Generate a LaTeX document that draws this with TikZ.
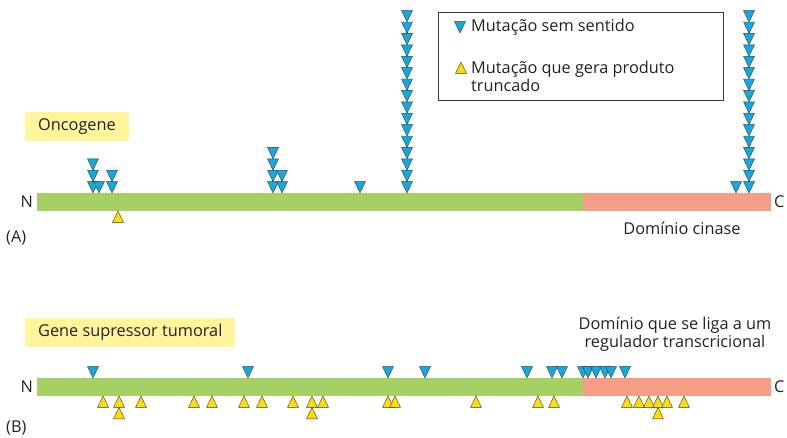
\documentclass[tikz,border=0pt]{standalone}
\usepackage{fontspec}
\setmainfont{Open Sans}
\usepackage{tikz}
\usetikzlibrary{positioning}
\definecolor{BarGreen}{HTML}{A6CF64}
\definecolor{BarSalmon}{HTML}{F59E86}
\definecolor{MutBlue}{HTML}{12A9E2}
\definecolor{MutYellow}{HTML}{FFDD00}
\definecolor{TagYellow}{HTML}{FFF59A}
\definecolor{EdgeGray}{HTML}{3A3A3A}
\definecolor{InkDark}{HTML}{222222}

\begin{document}
\begin{tikzpicture}[x=1pt, y=-1pt, font=\fontsize{16.3}{18}\selectfont, text=InkDark,
  nonsense/.style={fill=MutBlue, draw=EdgeGray, line width=0.4pt},
  truncating/.style={fill=MutYellow, draw=EdgeGray, line width=0.4pt},
  tagbox/.style={fill=TagYellow, inner xsep=13pt, inner ysep=0pt, minimum height=29pt, anchor=west}]
  \useasboundingbox (0,0) rectangle (787,437);

  % Legend
  \draw[EdgeGray, line width=0.7pt] (438,12) rectangle (723,100);
  \draw[nonsense] (460,33) -- ++(-5.5,-11.4) -- ++(11,0) -- cycle;
  \node[anchor=west, inner sep=0pt] (legblue) at (471,27) {Mutação sem sentido};
  \draw[truncating] (461,62) -- ++(-5.5,11.4) -- ++(11,0) -- cycle;
  \node[anchor=west, inner sep=0pt, align=left] (legyellow) at (471,76) {Mutação que gera produto\\truncado};

  % (A) Oncogene
  \node[tagbox] (onco) at (25,126.5) {Oncogene};
  \fill[BarGreen] (37,193) rectangle (583,211);
  \fill[BarSalmon] (583,193) rectangle (771,211);
  \node[anchor=east, inner sep=0pt] (nA) at (33,202) {N};
  \node[anchor=west, inner sep=0pt] (cA) at (774,202) {C};
  \node[anchor=west, inner sep=0pt] (panelA) at (6,238) {(A)};
  \node[inner sep=0pt] (kinase) at (682,228) {Domínio cinase};

  % nonsense hits on A (position/row)
  \foreach \x/\k in {93/0,93/1,93/2,99/0,112/0,112/1,273/0,273/1,273/2,273/3,282/0,282/1,360/0,736/0}
    \draw[nonsense] (\x,193-11.4*\k) -- ++(-5.5,-11.4) -- ++(11,0) -- cycle;
  \foreach \x in {407,749}
    \foreach \k in {0,...,15}
      \draw[nonsense] (\x,193-11.4*\k) -- ++(-5.5,-11.4) -- ++(11,0) -- cycle;
  \draw[truncating] (118,211) -- ++(-5.5,11.4) -- ++(11,0) -- cycle;

  % (B) Tumour suppressor
  \node[tagbox] (suppr) at (25,332.5) {Gene supressor tumoral};
  \fill[BarGreen] (37,378) rectangle (583,396);
  \fill[BarSalmon] (583,378) rectangle (771,396);
  \node[anchor=east, inner sep=0pt] (nB) at (33,387) {N};
  \node[anchor=west, inner sep=0pt] (cB) at (774,387) {C};
  \node[anchor=west, inner sep=0pt] (panelB) at (6,428) {(B)};
  \node[inner sep=0pt, align=center] (binding) at (675,334) {Domínio que se liga a um\\regulador transcricional};

  \foreach \x in {93,248,388,425,527,552,562,583,588,596,605,611,625}
    \draw[nonsense] (\x,378) -- ++(-5.5,-11.4) -- ++(11,0) -- cycle;
  \foreach \x/\k in {103/0,119/0,119/1,141/0,194/0,212/0,244/0,262/0,293/0,312/0,312/1,323/0,
                     388/0,395/0,476/0,538/0,554/0,627/0,639/0,649/0,658/0,658/1,667/0,684/0}
    \draw[truncating] (\x,396+11.4*\k) -- ++(-5.5,11.4) -- ++(11,0) -- cycle;
\end{tikzpicture}
\end{document}
